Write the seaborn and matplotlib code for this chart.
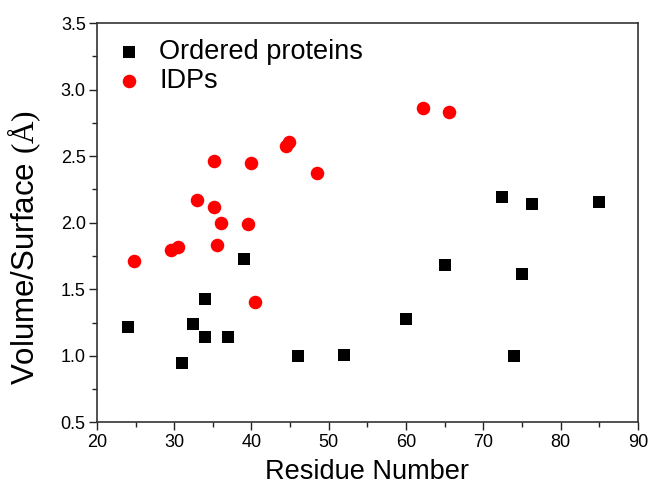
import matplotlib
matplotlib.use("Agg")
import matplotlib.pyplot as plt
import seaborn as sns
import pandas as pd
from matplotlib.ticker import MultipleLocator, FormatStrFormatter

ordered_x = [24.0, 31.0, 32.5, 34.0, 34.0, 37.0, 39.0, 46.0, 52.0, 60.0, 65.0, 72.4, 74.0, 75.0, 76.3, 85.0]
ordered_y = [1.22, 0.95, 1.24, 1.43, 1.14, 1.14, 1.73, 1.00, 1.01, 1.28, 1.68, 2.195, 1.00, 1.615, 2.14, 2.155]
idp_x = [24.8, 29.6, 30.5, 32.9, 35.1, 35.2, 35.5, 36.1, 39.6, 39.9, 40.5, 44.5, 44.9, 48.5, 62.2, 65.6]
idp_y = [1.71, 1.795, 1.82, 2.17, 2.46, 2.12, 1.835, 2.00, 1.99, 2.45, 1.405, 2.575, 2.61, 2.37, 2.86, 2.83]
groups = ["Ordered proteins", "IDPs"]

df_ord = pd.DataFrame({"x": ordered_x, "y": ordered_y, "group": groups[0]})
df_idp = pd.DataFrame({"x": idp_x, "y": idp_y, "group": groups[1]})

sns.set_style("white")
plt.rcParams["font.family"] = ["Liberation Sans", "DejaVu Sans"]
plt.rcParams["text.color"] = "black"
plt.rcParams["axes.labelcolor"] = "black"
plt.rcParams["xtick.color"] = "black"
plt.rcParams["ytick.color"] = "black"
plt.rcParams["mathtext.fontset"] = "custom"
plt.rcParams["mathtext.rm"] = "Liberation Serif"

fig = plt.figure(figsize=(6.5, 4.95), dpi=100)
ax = fig.add_axes([0.149, 0.1465, 0.8325, 0.807])

sns.scatterplot(data=df_ord, x="x", y="y", marker="s", color="black",
                s=80, linewidth=0, ax=ax, label=groups[0])
sns.scatterplot(data=df_idp, x="x", y="y", marker="o", color="#ff0000",
                s=95, linewidth=0, ax=ax, label=groups[1])

ax.set_xlim(20, 90)
ax.set_ylim(0.5, 3.5)
ax.xaxis.set_major_locator(MultipleLocator(10))
ax.xaxis.set_minor_locator(MultipleLocator(5))
ax.yaxis.set_major_locator(MultipleLocator(0.5))
ax.yaxis.set_minor_locator(MultipleLocator(0.25))
ax.yaxis.set_major_formatter(FormatStrFormatter("%.1f"))
ax.tick_params(which="major", direction="out", length=6, width=1, color="#222222",
               labelsize=13, labelcolor="black", bottom=True, left=True,
               top=False, right=False, pad=2)
ax.tick_params(which="minor", direction="out", length=3.5, width=1, color="#222222",
               bottom=True, left=True, top=False, right=False)
for side in ["left", "bottom", "top", "right"]:
    ax.spines[side].set_visible(True)
    ax.spines[side].set_color("#333333")
    ax.spines[side].set_linewidth(1.2)

ax.set_xlabel("Residue Number", fontsize=19.5, labelpad=6, color="black")
ax.set_ylabel(r"Volume/Surface $\mathrm{(\AA)}$", fontsize=22.5, color="black")
ax.yaxis.set_label_coords(-0.1, 0.437)

leg = ax.legend(loc="upper left", frameon=False, fontsize=19.5, handletextpad=0.5,
                borderaxespad=0.2, labelspacing=0.1, handlelength=1.2,
                bbox_to_anchor=(0.0, 1.0))
for t in leg.get_texts():
    t.set_color("black")

fig.savefig("out.png", dpi=100)
